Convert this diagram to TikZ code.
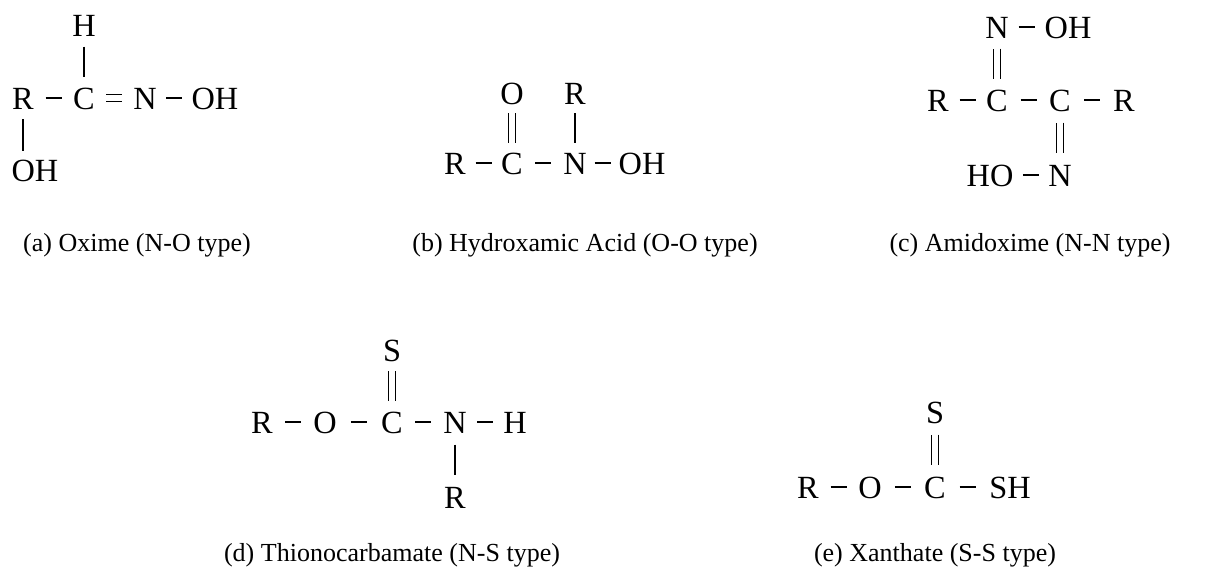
\documentclass[tikz,border=0pt]{standalone}
\usepackage{fontspec}
\setmainfont{Liberation Serif}
\usetikzlibrary{calc}
\newcommand{\hbond}[3][bond]{\draw[#1] ($(#2.east)!0.5!(#3.west)$) +(-8,0) -- +(8,0);}
\newcommand{\vbond}[3][bond]{\draw[#1] ($(#2.north)!0.5!(#3.south)$) +(0,-15) -- +(0,15);}
\begin{document}
\begin{tikzpicture}[x=0.025cm, y=-0.025cm,
    atom/.style={inner sep=0pt, text height=0.55cm, text depth=0pt, font=\fontsize{23}{28}\selectfont},
    caption/.style={font=\fontsize{18.5}{22}\selectfont},
    bond/.style={line width=0.9pt},
    dbond/.style={bond, double, double distance=4pt}
  ]
  \useasboundingbox (0,0) rectangle (1208,585);
  % (a) Oxime
  \node[atom] (aR) at (23,98) {R};
  \node[atom] (aC) at (84,98) {C};
  \node[atom] (aN) at (145,98) {N};
  \node[atom] (aOH) at (215,98) {OH};
  \node[atom] (aH) at (84,25) {H};
  \node[atom] (aOH2) at (35,170) {OH};
  \hbond{aR}{aC}
  \hbond[dbond]{aC}{aN}
  \hbond{aN}{aOH}
  \vbond{aC}{aH}
  \draw[bond] (aR.south) ++(0,10) -- ++(0,32);
  \node[caption] (capa) at (137,245) {(a) Oxime (N-O type)};
  % (b) Hydroxamic acid
  \node[atom] (bR) at (455,163) {R};
  \node[atom] (bC) at (512,163) {C};
  \node[atom] (bN) at (575,163) {N};
  \node[atom] (bOH) at (642,163) {OH};
  \node[atom] (bO) at (512,93) {O};
  \node[atom] (bR2) at (575,93) {R};
  \hbond{bR}{bC}
  \hbond{bC}{bN}
  \hbond{bN}{bOH}
  \vbond[dbond]{bC}{bO}
  \vbond{bN}{bR2}
  \node[caption] (capb) at (585,245) {(b) Hydroxamic Acid (O-O type)};
  % (c) Amidoxime
  \node[atom] (cR) at (938,100) {R};
  \node[atom] (cC1) at (997,100) {C};
  \node[atom] (cC2) at (1060,100) {C};
  \node[atom] (cR2) at (1124,100) {R};
  \node[atom] (cN1) at (997,27) {N};
  \node[atom] (cOH) at (1068,27) {OH};
  \node[atom] (cN2) at (1060,175) {N};
  \node[atom] (cHO) at (990,175) {HO};
  \hbond{cR}{cC1}
  \hbond{cC1}{cC2}
  \hbond{cC2}{cR2}
  \vbond[dbond]{cC1}{cN1}
  \hbond{cN1}{cOH}
  \vbond[dbond]{cN2}{cC2}
  \hbond{cHO}{cN2}
  \node[caption] (capc) at (1030,245) {(c) Amidoxime (N-N type)};
  % (d) Thionocarbamate
  \node[atom] (dR) at (262,422) {R};
  \node[atom] (dO) at (325,422) {O};
  \node[atom] (dC) at (392,422) {C};
  \node[atom] (dN) at (455,422) {N};
  \node[atom] (dH) at (515,422) {H};
  \node[atom] (dS) at (392,350) {S};
  \node[atom] (dR2) at (455,497) {R};
  \hbond{dR}{dO}
  \hbond{dO}{dC}
  \hbond{dC}{dN}
  \hbond{dN}{dH}
  \vbond[dbond]{dC}{dS}
  \vbond{dR2}{dN}
  \node[caption] (capd) at (392,555) {(d) Thionocarbamate (N-S type)};
  % (e) Xanthate
  \node[atom] (eR) at (808,487) {R};
  \node[atom] (eO) at (870,487) {O};
  \node[atom] (eC) at (935,487) {C};
  \node[atom] (eSH) at (1010,487) {SH};
  \node[atom] (eS) at (935,412) {S};
  \hbond{eR}{eO}
  \hbond{eO}{eC}
  \hbond{eC}{eSH}
  \vbond[dbond]{eC}{eS}
  \node[caption] (cape) at (935,555) {(e) Xanthate (S-S type)};
\end{tikzpicture}
\end{document}
